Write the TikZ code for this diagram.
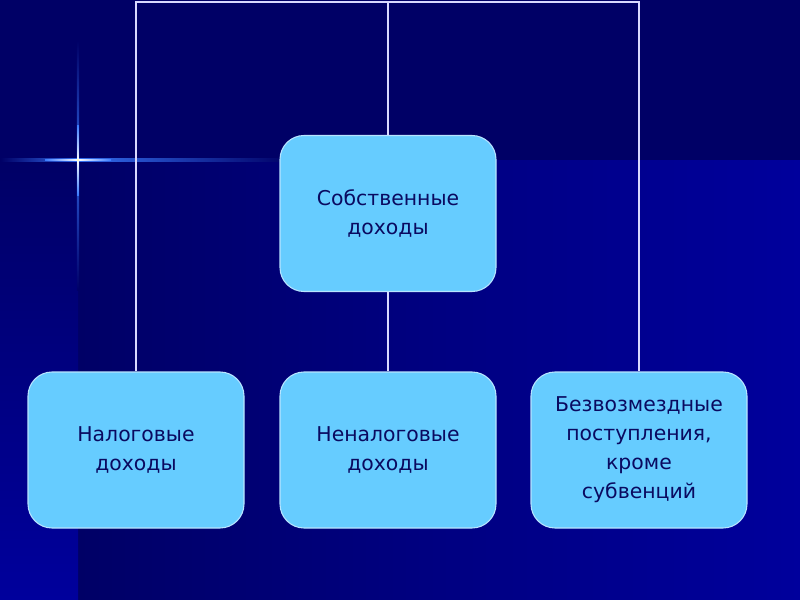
\documentclass[tikz,border=0pt]{standalone}
\usepackage{fontspec}
\setmainfont{DejaVu Sans}
\usetikzlibrary{calc}
\definecolor{bgdark}{HTML}{000066}
\definecolor{bglight}{HTML}{00009C}
\definecolor{boxfill}{HTML}{66CCFF}
\definecolor{boxedge}{HTML}{B8E4FF}
\definecolor{txt}{HTML}{0A0A60}
\definecolor{glow}{HTML}{3A7BFF}
\tikzset{
  box/.style={draw=boxedge, line width=0.8pt, fill=boxfill, rounded corners=18pt,
    minimum width=162pt, minimum height=117pt, align=center, text=txt,
    font=\fontsize{15.3pt}{21.75pt}\selectfont, inner sep=0pt},
  conn/.style={draw=white!85!blue, line width=1.8pt},
}
\begin{document}
\begin{tikzpicture}[x=0.75pt,y=-0.75pt]
\useasboundingbox (0,0) rectangle (800,600);
% background
\fill[bgdark] (0,0) rectangle (800,600);
\shade[left color=bgdark, right color=bglight] (78,160) rectangle (800,600);
\shade[top color=bgdark, bottom color=bglight] (0,160) rectangle (78,600);
% star glow
\shade[left color=bgdark, right color=glow, opacity=0.9] (0,158.5) rectangle (78,161.5);
\shade[left color=glow, right color=bgdark, opacity=0.9] (78,158.5) rectangle (290,161.5);
\shade[top color=bgdark, bottom color=glow, opacity=0.8] (76.8,40) rectangle (79.2,160);
\shade[top color=glow, bottom color=bgdark, opacity=0.8] (76.8,160) rectangle (79.2,290);
\shade[left color=glow, right color=white] (45,159.2) rectangle (78,160.8);
\shade[left color=white, right color=glow] (78,159.2) rectangle (111,160.8);
\shade[top color=glow, bottom color=white] (77.2,125) rectangle (78.8,160);
\shade[top color=white, bottom color=glow] (77.2,160) rectangle (78.8,195);
\fill[white!80!yellow] (78,160) circle (1.6);
% nodes
\node[box] (c) at (388,213.5) {Собственные\\доходы};
\node[box] (l) at (136,450) {Налоговые\\доходы};
\node[box] (m) at (388,450) {Неналоговые\\доходы};
\node[box] (r) at (639,450) {Безвозмездные\\поступления,\\кроме\\субвенций};
\coordinate (bus) at (388,2);
% connectors
\draw[conn] (l.north) -- (l.north |- bus) -- (r.north |- bus) -- (r.north);
\draw[conn] (c.north) -- (bus);
\draw[conn] (c.south) -- (m.north);
\end{tikzpicture}
\end{document}
